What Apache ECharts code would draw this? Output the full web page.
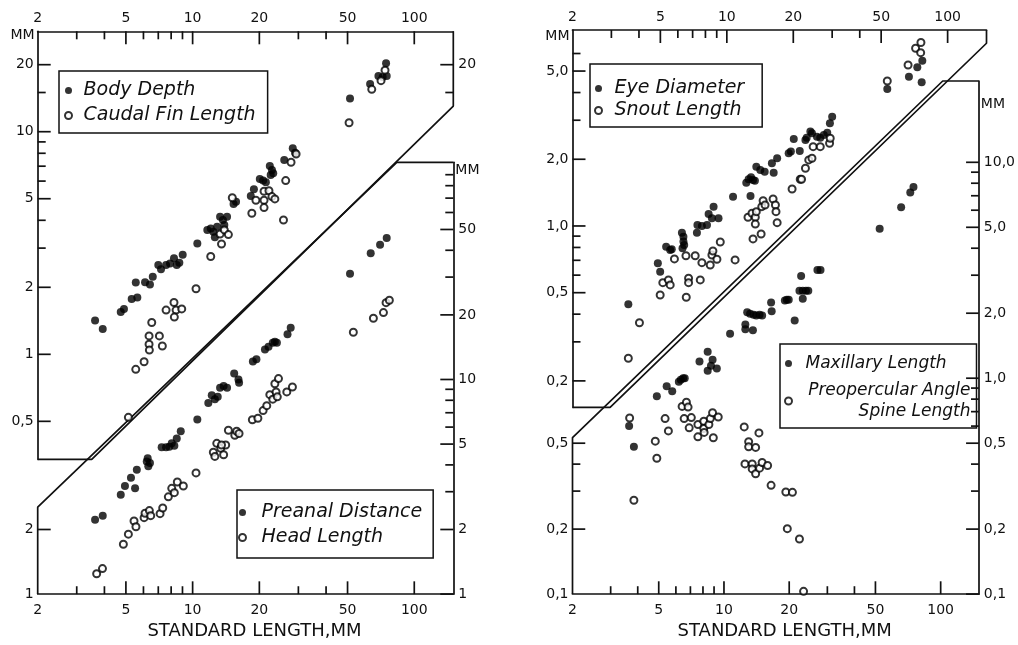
<!DOCTYPE html>
<html><head><meta charset="utf-8">
<script src="https://cdn.jsdelivr.net/npm/echarts@6/dist/echarts.min.js"></script>
<style>html,body{margin:0;padding:0;background:#fff}#chart{width:1018px;height:645px}</style>
</head><body><div id="chart"></div>
<script>
// ---------------- DATA (standard length mm, measurement mm) ----------------
const BODY_DEPTH = [[3.63,1.42],[3.93,1.30],[4.74,1.55],[4.90,1.60],[5.31,1.77],[5.63,1.80],[5.54,2.10],[6.10,2.11],[6.42,2.06],[6.61,2.23],[7.00,2.52],[7.20,2.41],[7.59,2.52],[7.91,2.56],[8.24,2.70],[8.48,2.52],[8.71,2.58],[9.02,2.80],[10.5,3.15],[11.65,3.62],[12.07,3.67],[12.4,3.55],[12.6,3.36],[12.9,3.74],[13.3,4.15],[13.7,4.01],[14.3,4.15],[13.9,3.81],[15.3,4.73],[15.7,4.85],[18.3,5.14],[18.9,5.51],[20.1,6.13],[20.8,6.03],[21.4,5.93],[22.3,7.02],[22.8,6.73],[23.1,6.50],[22.5,6.39],[25.9,7.46],[28.3,8.42],[29.0,8.05],[51.3,14.1],[63.2,16.4],[68.9,17.8],[72.0,17.6],[75.1,17.8],[74.6,20.3]];
const CAUDAL_FIN = [[5.13,0.521],[5.54,0.856],[6.04,0.926],[6.36,1.21],[6.36,1.11],[6.38,1.045],[7.08,1.21],[7.30,1.09],[6.54,1.39],[7.59,1.58],[8.24,1.71],[8.42,1.58],[8.93,1.60],[8.27,1.47],[10.36,1.97],[12.07,2.75],[13.3,3.47],[13.5,3.13],[13.9,3.62],[14.5,3.45],[15.1,5.05],[18.5,4.30],[19.3,4.92],[21.0,5.40],[22.1,5.43],[22.8,5.11],[23.5,4.99],[21.0,4.92],[21.0,4.56],[25.7,4.01],[26.3,6.03],[27.8,7.29],[29.3,7.94],[50.8,10.97],[64.3,15.5],[70.8,16.95],[73.8,18.9]];
const PREANAL = [[3.63,2.22],[3.93,2.32],[4.74,2.90],[4.95,3.19],[5.50,3.11],[5.27,3.48],[5.60,3.80],[6.21,4.15],[6.27,4.30],[6.31,3.94],[6.42,4.08],[7.25,4.83],[7.59,4.83],[7.85,4.86],[8.05,5.04],[8.27,4.91],[8.48,5.31],[8.84,5.74],[10.5,6.51],[11.77,7.77],[12.2,8.45],[12.6,8.10],[12.98,8.30],[13.3,9.15],[13.8,9.32],[14.3,9.15],[15.4,10.65],[16.1,10.0],[16.2,9.65],[18.7,12.13],[19.4,12.43],[21.2,13.81],[22.0,14.21],[23.0,14.82],[23.5,14.98],[24.0,14.82],[26.8,16.24],[27.7,17.41],[51.3,31.1],[63.6,38.7],[70.1,42.5],[75.1,45.6]];
const HEAD_LENGTH = [[3.69,1.244],[3.92,1.315],[4.87,1.707],[5.13,1.902],[5.44,2.19],[5.55,2.06],[6.04,2.27],[6.10,2.38],[6.38,2.45],[6.47,2.32],[7.13,2.37],[7.33,2.52],[7.77,2.84],[8.05,3.11],[8.27,2.97],[8.53,3.33],[9.08,3.19],[10.36,3.67],[12.4,4.58],[12.85,5.04],[12.6,4.38],[13.4,4.78],[13.8,4.46],[14.1,4.95],[13.5,4.95],[14.5,5.80],[15.5,5.50],[15.8,5.74],[16.2,5.60],[18.6,6.49],[19.7,6.60],[20.8,7.16],[21.6,7.55],[22.3,8.50],[23.0,8.10],[23.8,8.75],[24.1,8.30],[23.5,9.55],[24.4,10.1],[26.6,8.75],[28.2,9.22],[53.1,16.6],[65.4,19.3],[72.6,20.5],[74.6,22.8],[77.2,23.4]];
const EYE_DIAMETER = [[3.58,0.443],[4.87,0.679],[4.99,0.622],[5.31,0.806],[5.54,0.779],[5.63,0.785],[6.26,0.933],[6.36,0.895],[6.36,0.850],[6.41,0.821],[6.30,0.793],[7.32,0.933],[7.36,1.01],[7.71,1.0],[8.13,1.01],[8.27,1.133],[8.56,1.083],[8.71,1.222],[9.17,1.083],[10.67,1.356],[12.25,1.568],[12.55,1.624],[12.87,1.659],[13.14,1.613],[13.4,1.60],[12.8,1.366],[13.6,1.852],[14.18,1.789],[14.84,1.758],[16.3,1.74],[16.0,1.919],[16.9,2.021],[19.06,2.128],[19.5,2.165],[20.1,2.47],[21.4,2.18],[22.7,2.444],[23.0,2.503],[23.9,2.665],[24.3,2.62],[25.6,2.529],[26.5,2.50],[27.5,2.574],[28.5,2.636],[29.3,2.907],[30.0,3.113],[53.3,4.152],[66.8,4.717],[72.9,5.202],[76.8,5.572],[76.3,4.452]];
const SNOUT_LENGTH = [[3.58,0.253],[4.02,0.366],[4.99,0.488],[5.13,0.555],[5.44,0.571],[5.54,0.542],[5.79,0.710],[6.53,0.734],[6.71,0.581],[6.71,0.555],[6.55,0.477],[7.19,0.734],[7.58,0.571],[7.71,0.683],[8.41,0.667],[8.56,0.740],[8.65,0.771],[9.02,0.708],[9.34,0.847],[10.9,0.703],[12.47,1.095],[13.0,1.141],[13.46,1.095],[13.46,1.02],[13.6,1.16],[14.4,1.222],[14.6,1.30],[14.9,1.244],[13.14,0.874],[14.3,0.920],[16.2,1.324],[16.6,1.244],[16.7,1.16],[16.9,1.035],[19.75,1.469],[21.5,1.624],[21.8,1.624],[22.7,1.821],[23.5,1.986],[24.3,2.02],[24.6,2.28],[26.5,2.28],[29.2,2.362],[29.4,2.488],[53.3,4.511],[66.2,5.328],[71.6,6.337],[75.5,6.053],[75.7,6.73]];
const MAXILLARY = [[3.65,0.601],[3.84,0.481],[4.90,0.825],[5.44,0.917],[5.77,0.870],[6.19,0.964],[6.32,0.984],[6.48,1.0],[6.59,1.0],[7.71,1.194],[8.41,1.327],[8.86,1.216],[8.41,1.082],[8.71,1.141],[9.27,1.109],[10.67,1.605],[12.55,1.773],[12.55,1.687],[13.6,1.669],[12.8,2.018],[13.2,1.991],[13.7,1.97],[14.1,1.95],[14.6,1.97],[15.0,1.95],[16.6,2.04],[16.5,2.244],[19.1,2.292],[19.5,2.31],[19.9,2.31],[21.2,1.849],[22.7,2.974],[22.3,2.539],[23.1,2.54],[23.9,2.54],[24.5,2.54],[23.1,2.333],[27.0,3.169],[27.9,3.17],[52.3,4.929],[65.7,6.184],[72.4,7.246],[74.9,7.693]];
const PREOPERCULAR = [[3.67,0.654],[3.84,0.272],[4.82,0.511],[4.90,0.426],[5.35,0.650],[5.54,0.570],[6.41,0.740],[6.71,0.774],[6.83,0.735],[6.55,0.650],[7.07,0.657],[6.91,0.589],[7.58,0.610],[7.58,0.535],[8.07,0.632],[8.07,0.585],[8.10,0.561],[8.52,0.610],[8.65,0.650],[8.86,0.692],[9.41,0.661],[8.93,0.530],[12.4,0.595],[14.5,0.558],[13.0,0.508],[13.0,0.481],[14.0,0.478],[12.5,0.401],[13.5,0.401],[13.5,0.380],[14.0,0.361],[14.6,0.383],[15.0,0.407],[15.9,0.394],[16.5,0.319],[19.3,0.297],[20.7,0.296],[19.6,0.201],[22.3,0.180],[23.3,0.103]];

// ---------------- tick labels / tick values ----------------
const X_LABELS = [2, 5, 10, 20, 50, 100];
const X_MAJOR_TICKS = [5, 10, 20, 50, 100];
const X_MINOR_TICKS = [3, 4, 6, 7, 8, 9, 30, 40];
const LU_Y_LABELS = [0.5, 1, 2, 5, 10, 20];
const LU_Y_MINOR = [3, 4, 6, 7, 8, 9, 15];
const LU_R_LABELS = [20];
const LU_R_MINOR = [15];
const LL_Y_LABELS = [1, 2, 5, 10, 20, 50];
const LL_Y_MINOR = [3, 4, 6, 7, 8, 9, 30, 40, 60, 70, 80, 90];
const LL_L_LABELS = [1, 2];
const LL_L_MAJOR = [2];
const RU_Y_LABELS = [0.2, 0.5, 1, 2, 5];
const RU_Y_MINOR = [0.3, 0.4, 0.6, 0.7, 0.8, 0.9, 3, 4, 6];
const RL_Y_LABELS = [0.1, 0.2, 0.5, 1, 2, 5, 10];
const RL_Y_MINOR = [0.3, 0.4, 0.6, 0.7, 0.8, 0.9, 3, 4, 6, 7, 8, 9];
const RL_L_LABELS = [0.1, 0.2, 0.5];
const RL_L_MAJOR = [0.2, 0.5];
const RL_L_MINOR = [0.3, 0.4];

// ---------------- layout / axis extents ----------------
const X_MIN = 2, X_MAX = 150;
const GRIDS = [
  {left: 37.7, top: 31.3, width: 415.6, height: 428},    // left panel, upper-left region
  {left: 37.7, top: 162.3, width: 415.6, height: 439.4}, // left panel, lower-right region
  {left: 572.5, top: 30, width: 414, height: 377.3},     // right panel, upper-left region
  {left: 572.5, top: 81, width: 414, height: 520.5}      // right panel, lower-right region
];
const Y_EXT = [[0.3376, 28.25], [1, 102.8], [0.152, 7.66], [0.1, 23.8]];
// frame outlines (axis-unit coordinates) of each region
const FRAME = [
  [[150, 28.25], [150, 13.04], [3.506, 0.3376], [2, 0.3376]],
  [[2, 1], [2, 2.54], [83.4, 102.8], [150, 102.8]],
  [[150, 7.66], [150, 6.675], [2.96, 0.152], [2, 0.152]],
  [[2, 0.1], [2, 0.531], [102.2, 23.8], [150, 23.8]]
];

const INK = '#111';
const FONT = 'DejaVu Sans';
const LINE_W = 1.7, TICK_W = 1.7, LONG = 13, SHORT = 8;
const fmtPlain = v => String(+v).replace('.', ',');
const fmtOne = v => (+v).toFixed(1).replace('.', ',');

function xAx(grid, pos, withName) {
  const a = {
    type: 'log', gridIndex: grid, position: pos, min: X_MIN, max: X_MAX,
    axisLine: {onZero: false, lineStyle: {color: INK, width: LINE_W}},
    axisTick: {show: false},
    axisLabel: {customValues: X_LABELS, margin: pos === 'top' ? 6 : 9,
      color: INK, fontFamily: FONT, fontSize: 14, formatter: v => String(+v)},
    splitLine: {show: false}
  };
  if (withName) {
    a.name = 'STANDARD LENGTH,MM';
    a.nameLocation = 'middle';
    a.nameGap = 24;
    a.nameTextStyle = {color: INK, fontFamily: FONT, fontSize: 18, padding: [0, 0, 0, 18]};
  }
  return a;
}
function yAx(o) {
  const a = {
    type: 'log', gridIndex: o.grid, position: o.pos, min: Y_EXT[o.grid][0], max: Y_EXT[o.grid][1],
    axisLine: {show: !!o.line, onZero: false, lineStyle: {color: INK, width: LINE_W}},
    axisTick: {show: false},
    axisLabel: {customValues: o.labels, margin: o.margin || 4, formatter: o.fmt,
      color: INK, fontFamily: FONT, fontSize: 14},
    splitLine: {show: false}
  };
  if (o.name) {
    a.name = 'MM'; a.nameLocation = 'end'; a.nameGap = o.nameGap;
    a.nameTextStyle = {color: INK, fontFamily: FONT, fontSize: 14, align: o.pos === 'left' ? 'right' : 'left',
      verticalAlign: 'middle', padding: o.pos === 'left' ? [0, 3, 0, 0] : [0, 0, 0, 2]};
  }
  return a;
}

const xAxis = [xAx(0, 'top'), xAx(1, 'bottom', true), xAx(2, 'top'), xAx(3, 'bottom', true)];
const yAxis = [
  yAx({grid: 0, pos: 'left', line: true, labels: LU_Y_LABELS, fmt: fmtPlain, name: true, nameGap: -4}),
  yAx({grid: 0, pos: 'right', labels: LU_R_LABELS, fmt: fmtPlain, margin: 5}),
  yAx({grid: 1, pos: 'right', line: true, labels: LL_Y_LABELS, fmt: fmtPlain, margin: 5, name: true, nameGap: -8}),
  yAx({grid: 1, pos: 'left', labels: LL_L_LABELS, fmt: fmtPlain}),
  yAx({grid: 2, pos: 'left', line: true, labels: RU_Y_LABELS, fmt: fmtOne, name: true, nameGap: -6}),
  yAx({grid: 3, pos: 'right', line: true, labels: RL_Y_LABELS, fmt: fmtOne, margin: 5, name: true, nameGap: -23}),
  yAx({grid: 3, pos: 'left', labels: RL_L_LABELS, fmt: fmtOne})
];
// which x / y axis indices carry the series of each grid
const AX = [[0, 0], [1, 2], [2, 4], [3, 5]];

// ---- tick marks: short line series running inward from the axis, drawn on the log scales ----
// pixels-per-decade of each grid, used to turn a tick length into a ratio along a log axis
const pxPerDecX = g => GRIDS[g].width / Math.log10(X_MAX / X_MIN);
const pxPerDecY = g => GRIDS[g].height / Math.log10(Y_EXT[g][1] / Y_EXT[g][0]);
function tickLine(g, p1, p2) {
  return {type: 'line', xAxisIndex: AX[g][0], yAxisIndex: AX[g][1], data: [p1, p2], symbol: 'none',
    clip: false, silent: true, z: 4, lineStyle: {color: INK, width: TICK_W}};
}
function xTickSeries(g, top, vals, len) {
  const y0 = top ? Y_EXT[g][1] : Y_EXT[g][0];
  const r = Math.pow(10, len / pxPerDecY(g));
  const y1 = top ? y0 / r : y0 * r;
  return vals.map(v => tickLine(g, [v, y0], [v, y1]));
}
function yTickSeries(g, left, vals, len) {
  const x0 = left ? X_MIN : X_MAX;
  const r = Math.pow(10, len / pxPerDecX(g));
  const x1 = left ? x0 * r : x0 / r;
  return vals.map(v => tickLine(g, [x0, v], [x1, v]));
}
const TICKS = [].concat(
  xTickSeries(0, true, X_MAJOR_TICKS, LONG), xTickSeries(0, true, X_MINOR_TICKS, SHORT),
  yTickSeries(0, true, LU_Y_LABELS, LONG), yTickSeries(0, true, LU_Y_MINOR, SHORT),
  yTickSeries(0, false, LU_R_LABELS, LONG), yTickSeries(0, false, LU_R_MINOR, SHORT),
  xTickSeries(1, false, X_MAJOR_TICKS, LONG), xTickSeries(1, false, X_MINOR_TICKS, SHORT),
  yTickSeries(1, false, LL_Y_LABELS, LONG), yTickSeries(1, false, LL_Y_MINOR, SHORT),
  yTickSeries(1, true, LL_L_MAJOR, LONG),
  xTickSeries(2, true, X_MAJOR_TICKS, LONG), xTickSeries(2, true, X_MINOR_TICKS, SHORT),
  yTickSeries(2, true, RU_Y_LABELS, LONG), yTickSeries(2, true, RU_Y_MINOR, SHORT),
  xTickSeries(3, false, X_MAJOR_TICKS, LONG), xTickSeries(3, false, X_MINOR_TICKS, SHORT),
  yTickSeries(3, false, RL_Y_LABELS, LONG), yTickSeries(3, false, RL_Y_MINOR, SHORT),
  yTickSeries(3, true, RL_L_MAJOR, LONG), yTickSeries(3, true, RL_L_MINOR, SHORT)
);

function dots(name, data, g, filled) {
  return {
    name, type: 'scatter', xAxisIndex: AX[g][0], yAxisIndex: AX[g][1], data,
    symbol: filled ? 'circle' : 'emptyCircle', symbolSize: filled ? 8 : 7,
    itemStyle: filled ? {color: '#000'} : {color: '#000', borderWidth: 1.4}, z: 3
  };
}
function frame(g) {
  return {type: 'line', xAxisIndex: AX[g][0], yAxisIndex: AX[g][1], data: FRAME[g], symbol: 'none', clip: false,
    silent: true, lineStyle: {color: INK, width: LINE_W}, z: 2};
}

const legText = {color: INK, fontFamily: FONT, fontStyle: 'italic', fontSize: 19, lineHeight: 21};
function legend(names, left, top, iw, pad, gap, extra) {
  return Object.assign({
    data: names, left, top, orient: 'vertical', itemWidth: iw, itemHeight: 7, itemGap: gap,
    padding: pad, borderColor: INK, borderWidth: 1.5, selectedMode: false,
    textStyle: Object.assign({}, legText)
  }, extra || {});
}

const option = {
  animation: false,
  backgroundColor: '#fff',
  grid: GRIDS,
  xAxis, yAxis,
  legend: [
    legend(['Body Depth', 'Caudal Fin Length'], 59, 71, 20, [9, 12, 7, 5], 4),
    legend(['Preanal Distance', 'Head Length'], 237, 490, 28, [12, 11, 10, 1], 4),
    legend(['Eye Diameter', 'Snout Length'], 590, 64, 22, [14, 18, 6, 4], 1),
    legend(['Maxillary Length', 'Preopercular Angle Spine Length'], 780, 344, 24, [9, 6, 6, 4], 6, {
      formatter: n => n === 'Preopercular Angle Spine Length' ? '{a|Preopercular Angle}\n{a|Spine Length}' : n,
      textStyle: Object.assign({}, legText, {fontSize: 17,
        rich: {a: {width: 165, align: 'right', fontFamily: FONT, fontStyle: 'italic', fontSize: 17, lineHeight: 21, color: INK}}})
    })
  ],
  series: [
    frame(0), frame(1), frame(2), frame(3),
    ...TICKS,
    dots('Body Depth', BODY_DEPTH, 0, true),
    dots('Caudal Fin Length', CAUDAL_FIN, 0, false),
    dots('Preanal Distance', PREANAL, 1, true),
    dots('Head Length', HEAD_LENGTH, 1, false),
    dots('Eye Diameter', EYE_DIAMETER, 2, true),
    dots('Snout Length', SNOUT_LENGTH, 2, false),
    dots('Maxillary Length', MAXILLARY, 3, true),
    dots('Preopercular Angle Spine Length', PREOPERCULAR, 3, false)
  ]
};
const chart = echarts.init(document.getElementById('chart'), null, {renderer: 'canvas'});
chart.setOption(option);
</script></body></html>
